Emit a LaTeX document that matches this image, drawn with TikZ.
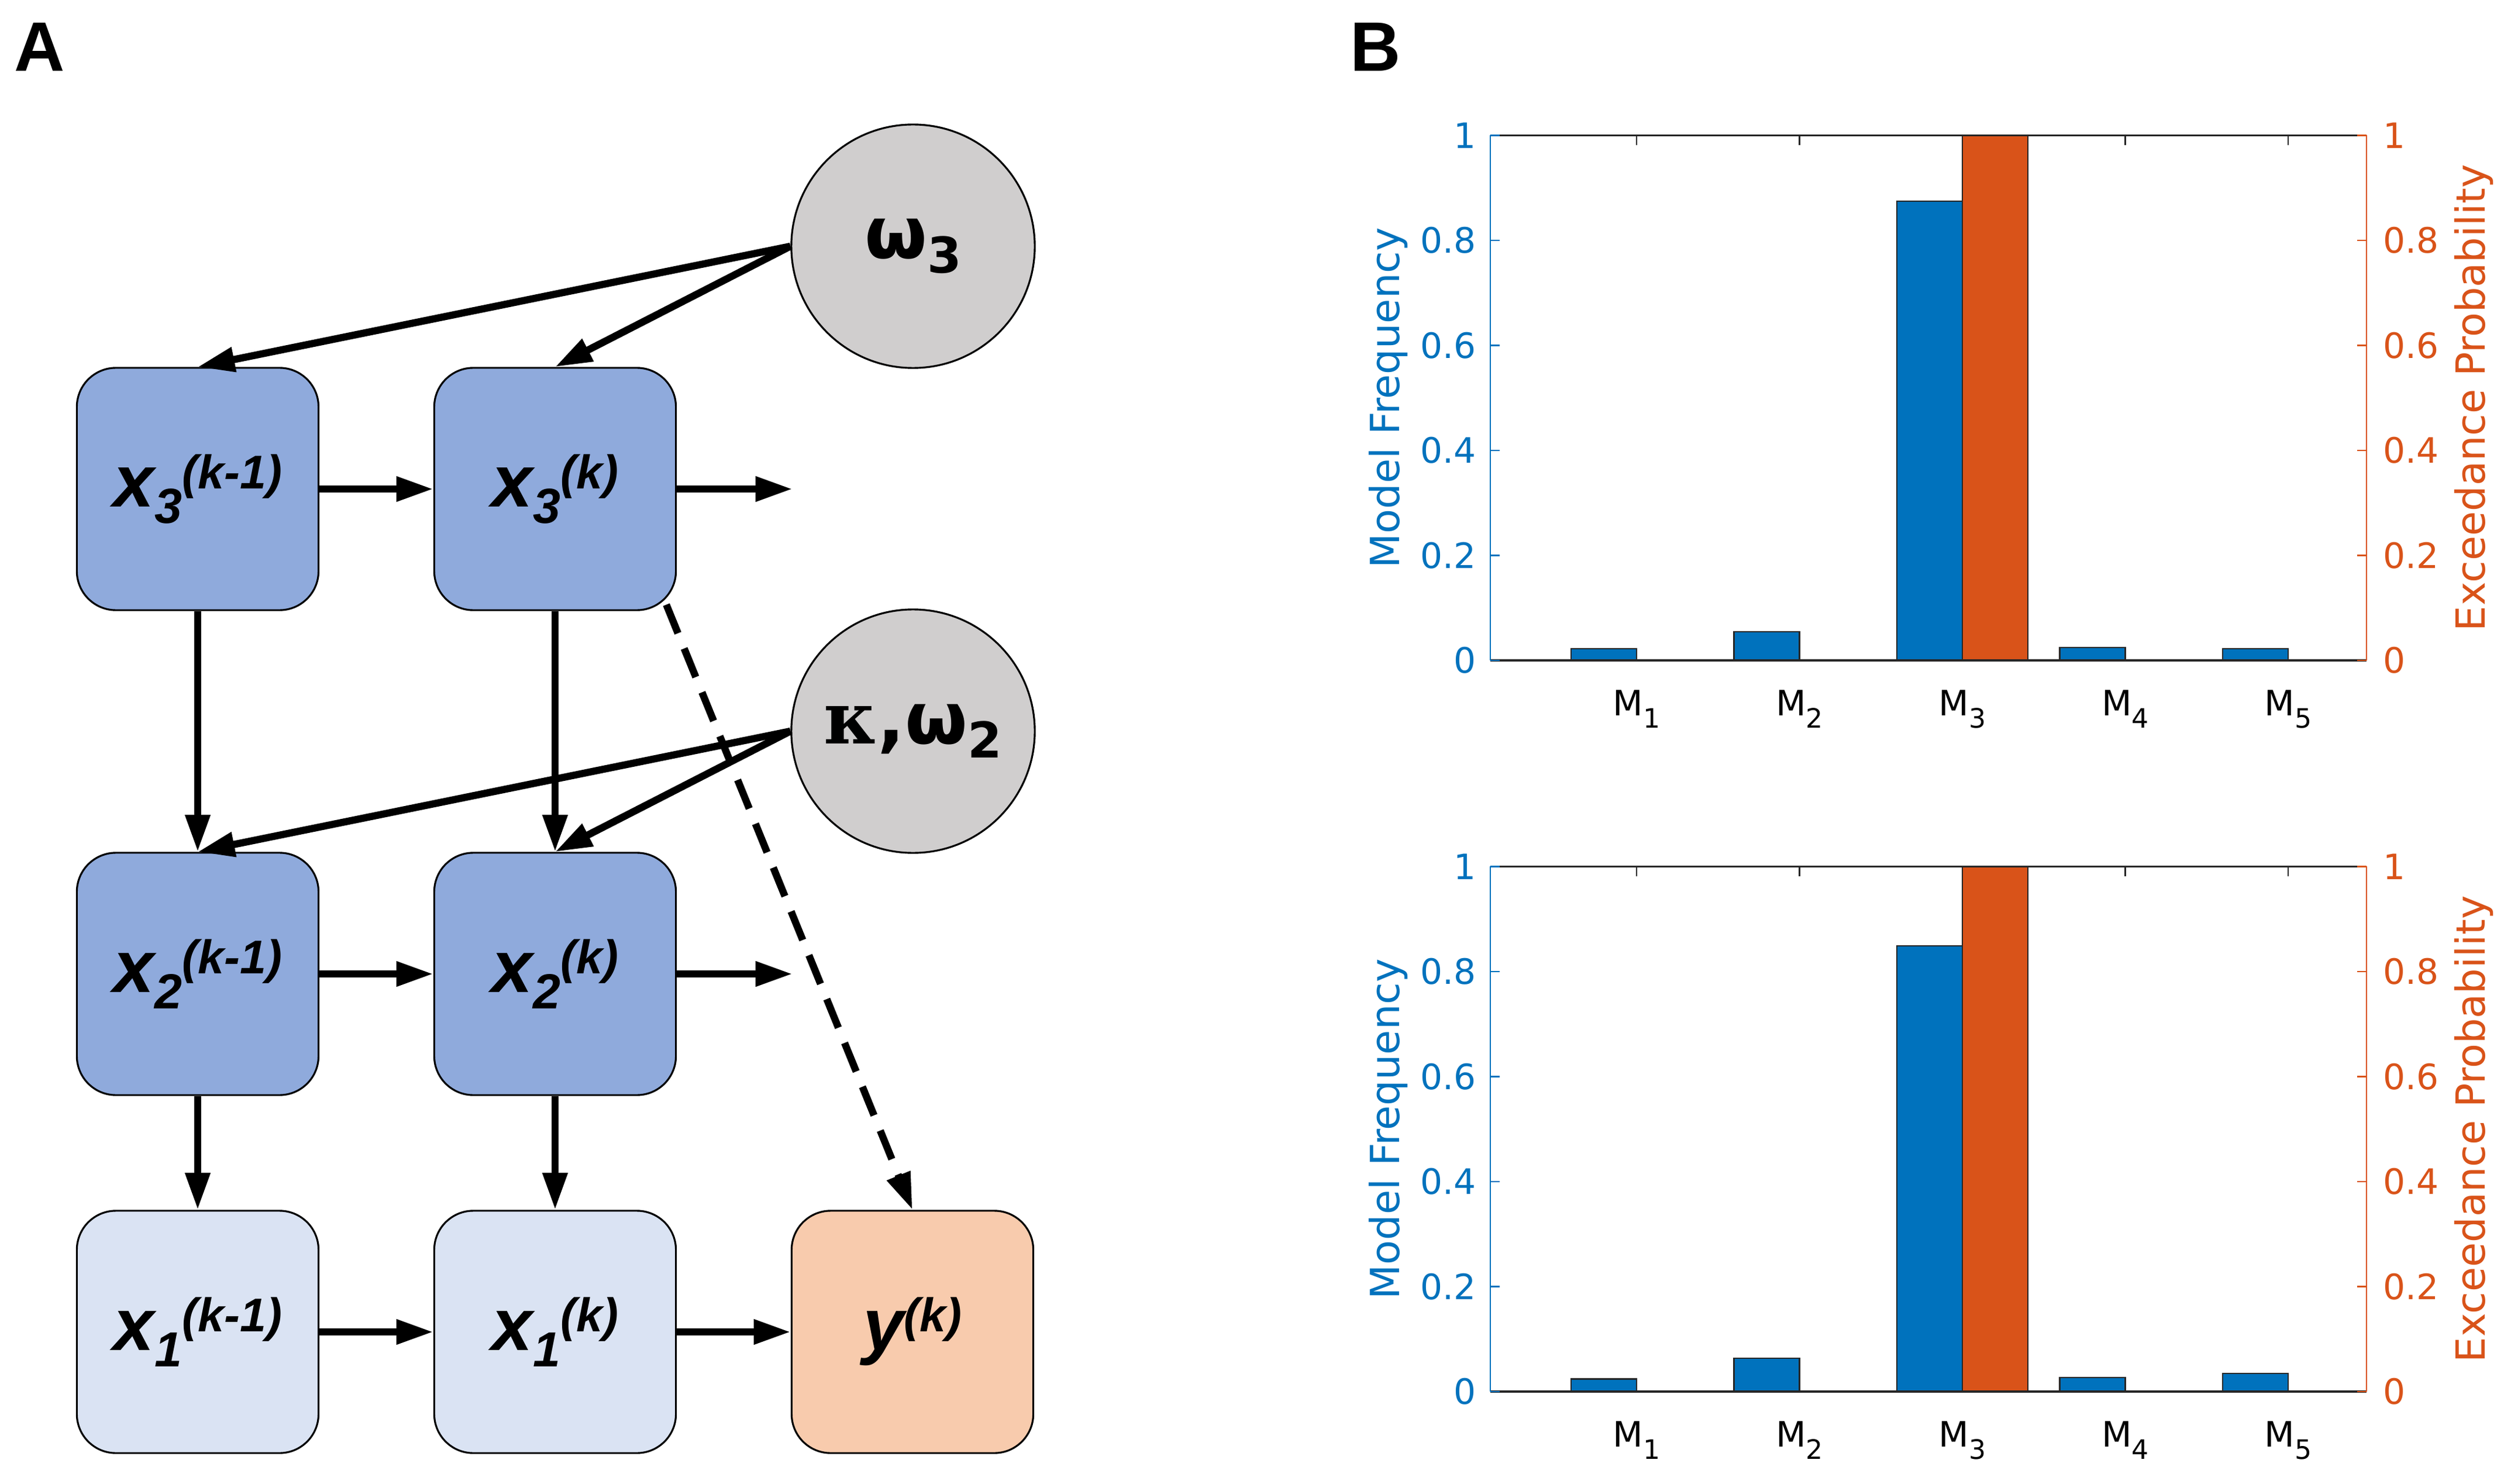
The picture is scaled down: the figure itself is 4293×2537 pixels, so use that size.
\documentclass[tikz,border=0pt]{standalone}
\usepackage{fontspec}
\usetikzlibrary{arrows.meta}
\setmainfont{Liberation Sans}
\newfontfamily\chartfont{DejaVu Sans}
\newfontfamily\omegafont{DejaVu Sans}
\newfontfamily\kappafont{DejaVu Serif}

\definecolor{hidblue}{HTML}{8FAADC}
\definecolor{lowblue}{HTML}{DAE3F3}
\definecolor{respfill}{HTML}{F8CBAD}
\definecolor{parfill}{HTML}{D0CECE}
\definecolor{mfblue}{HTML}{0072BD}
\definecolor{eporange}{HTML}{D95319}
\definecolor{axgray}{HTML}{262626}

% state label: #1 with index #2 and time #3
\newcommand{\stv}[3]{#1\raisebox{-8pt}{\fontsize{24}{24}\selectfont #2}\raisebox{9pt}{\fontsize{23}{23}\selectfont #3}}
% parameter label: #1 with index #2
\newcommand{\pv}[2]{#1\raisebox{-7pt}{\fontsize{24}{24}\selectfont #2}}

\tikzset{
  state/.style={draw, line width=0.9pt, rounded corners=19pt, minimum width=4.13cm,
                minimum height=4.14cm, inner sep=0pt, font=\fontsize{36}{36}\selectfont\bfseries\itshape},
  param/.style={draw, circle, line width=0.9pt, fill=parfill, minimum size=4.16cm,
                inner sep=0pt, font=\fontsize{35}{35}\selectfont\bfseries},
  link/.style={line width=3.5pt, -{Triangle[length=18pt, width=11.5pt]}},
  panel/.style={font=\fontsize{34}{34}\selectfont\bfseries, inner sep=0pt},
  ticklab/.style={font=\chartfont\fontsize{17}{17}\selectfont, inner sep=0pt},
  axlab/.style={font=\chartfont\fontsize{19.5}{19.5}\selectfont, inner sep=0pt, rotate=90},
  mlab/.style={font=\chartfont\fontsize{17}{17}\selectfont, inner sep=0pt, anchor=base},
  bar/.style={draw=axgray, line width=0.6pt},
}

% one bar chart of panel B: #1 name, #2 zero line (px), #3..#7 model frequencies
\newcommand{\bmsplot}[7]{
  \begin{scope}[shift={(0,#2)}, y=8.97cm]
    \foreach \v [count=\i] in {#3,#4,#5,#6,#7}
      \draw[bar, fill=mfblue] ({2798+278.5*(\i-1)-112},0) rectangle ({2798+278.5*(\i-1)},\v);
    \draw[bar, fill=eporange] (3355,0) rectangle (3467,1);
    \draw[axgray, line width=0.8pt] (2548,1) -- (4046,1);
    \draw[axgray, line width=1.2pt] (2548,0) -- (4046,0);
    \draw[mfblue, line width=0.8pt] (2548,0) -- (2548,1);
    \draw[eporange, line width=0.8pt] (4046,0) -- (4046,1);
    \foreach \i in {1,...,5} {
      \draw[axgray, line width=0.8pt] ({2798+278.5*(\i-1)},1) -- ++(0,-0.018);
      \node[mlab] (#1m\i) at ({2798+278.5*(\i-1)},-0.105) {M\raisebox{-6pt}{\fontsize{13}{13}\selectfont\i}};
    }
    \foreach \tv [count=\k] in {0,0.2,0.4,0.6,0.8,1} {
      \draw[mfblue, line width=0.8pt] (2548,\tv) -- ++(16,0);
      \draw[eporange, line width=0.8pt] (4046,\tv) -- ++(-16,0);
      \node[ticklab, mfblue, anchor=east] (#1l\k) at (2524,\tv) {\tv};
      \node[ticklab, eporange, anchor=west] (#1r\k) at (4074,\tv) {\tv};
    }
    \node[axlab, mfblue] (#1mf) at (2374,0.5) {Model Frequency};
    \node[axlab, eporange] (#1ep) at (4230,0.5) {Exceedance Probability};
  \end{scope}
}

\begin{document}
\begin{tikzpicture}[x=0.01cm, y=-0.01cm]
      \useasboundingbox (0,0) rectangle (4293,2537);
      \node[panel] (pa) at (68,80) {A};
      \node[panel] (pb) at (2352,80) {B};
      % states
      \node[state, fill=hidblue] (x3p) at (338,836) {\stv{x}{3}{(k-1)}};
      \node[state, fill=hidblue] (x3k) at (949,836) {\stv{x}{3}{(k)}};
      \node[state, fill=hidblue] (x2p) at (338,1665) {\stv{x}{2}{(k-1)}};
      \node[state, fill=hidblue] (x2k) at (949,1665) {\stv{x}{2}{(k)}};
      \node[state, fill=lowblue] (x1p) at (338,2277) {\stv{x}{1}{(k-1)}};
      \node[state, fill=lowblue] (x1k) at (949,2277) {\stv{x}{1}{(k)}};
      \node[state, fill=respfill] (yk) at (1560,2277) {\stv{y}{}{(k)}};
      % parameters
      \node[param] (w3) at (1561,421) {\omegafont\pv{ω}{3}};
      \node[param] (kw2) at (1561,1250) {{\kappafont κ}\omegafont,\pv{ω}{2}};
      \coordinate (e3) at (1355,836);
      \coordinate (e2) at (1355,1665);
      \draw[link] (w3.west) -- (x3p.north);
      \draw[link] (w3.west) -- (x3k.north);
      \draw[link] (kw2.west) -- (x2p.north);
      \draw[link] (kw2.west) -- (x2k.north);
      \draw[link] (x3p) -- (x3k);
      \draw[link] (x3k) -- (e3);
      \draw[link] (x2p) -- (x2k);
      \draw[link] (x2k) -- (e2);
      \draw[link] (x1p) -- (x1k);
      \draw[link] (x1k) -- (yk);
      \draw[link] (x3p) -- (x2p);
      \draw[link] (x3k) -- (x2k);
      \draw[link] (x2p) -- (x1p);
      \draw[link] (x2k) -- (x1k);
      \draw[link, dash pattern=on 15pt off 8pt] ([shift={(-18,-11)}]x3k.south east) -- (yk.north);
      % panel B
      \bmsplot{top}{1129}{0.022}{0.055}{0.875}{0.025}{0.022}
      \bmsplot{bot}{2379}{0.024}{0.064}{0.849}{0.027}{0.035}
\end{tikzpicture}
\end{document}
